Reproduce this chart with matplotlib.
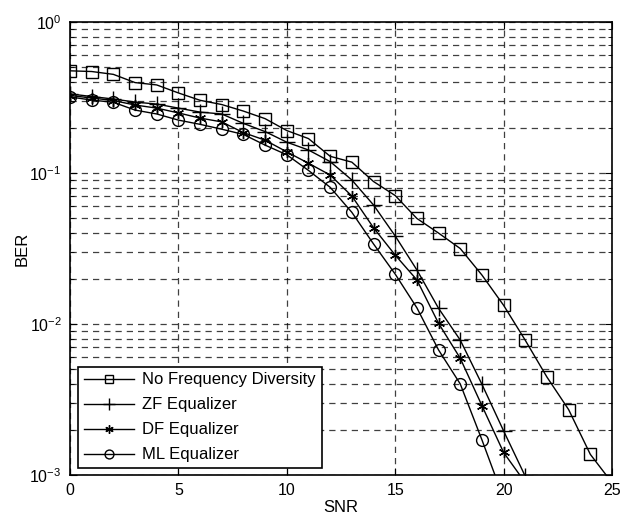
import matplotlib
matplotlib.use("Agg")
import matplotlib.pyplot as plt
import numpy as np

plt.rcParams['font.family'] = ['Liberation Sans', 'DejaVu Sans']
plt.rcParams['mathtext.fontset'] = 'custom'
plt.rcParams['mathtext.rm'] = 'Liberation Sans'

snr_nfd = list(range(0, 26))
ber_nfd = [0.475, 0.47, 0.45, 0.397, 0.383, 0.339, 0.303, 0.284, 0.257, 0.229,
           0.191, 0.169, 0.129, 0.118, 0.0878, 0.0709, 0.050, 0.040, 0.0316, 0.0211,
           0.0133, 0.0078, 0.00445, 0.00271, 0.00137, 0.00089]

snr_zf = list(range(0, 22))
ber_zf = [0.334, 0.321, 0.309, 0.295, 0.286, 0.269, 0.253, 0.246, 0.213, 0.188,
          0.160, 0.142, 0.119, 0.0899, 0.0614, 0.0383, 0.0228, 0.0127, 0.00783, 0.00399,
          0.00196, 0.00098]

snr_df = list(range(0, 22))
ber_df = [0.326, 0.314, 0.302, 0.282, 0.269, 0.250, 0.231, 0.218, 0.185, 0.165,
          0.138, 0.116, 0.097, 0.0704, 0.0434, 0.0286, 0.0196, 0.0101, 0.00593, 0.00288,
          0.00141, 0.00089]

snr_ml = list(range(0, 21))
ber_ml = [0.319, 0.304, 0.294, 0.261, 0.246, 0.224, 0.210, 0.195, 0.180, 0.153,
          0.132, 0.104, 0.0804, 0.0549, 0.0339, 0.0214, 0.0128, 0.00673, 0.00401, 0.00171,
          0.0007]

labels = ['No Frequency Diversity', 'ZF Equalizer', 'DF Equalizer', 'ML Equalizer']

fig = plt.figure(figsize=(6.22, 5.17), dpi=100)
ax = fig.add_axes([70/622, 1-475/517, (612-70)/622, (475-22)/517])

kw = dict(color='black', lw=1.0, mfc='none', mec='black', mew=1.0)
ax.semilogy(snr_nfd, ber_nfd, marker='s', ms=8.5, label=labels[0], **kw)
ax.semilogy(snr_zf, ber_zf, marker='+', ms=11, label=labels[1], **kw)
ax.semilogy(snr_df, ber_df, marker=(6, 2, 0), ms=8, label=labels[2], **kw)
ax.semilogy(snr_ml, ber_ml, marker='o', ms=8.5, label=labels[3], **kw)

ax.set_xlim(0, 25)
ax.set_ylim(1e-3, 1)
ax.set_xticks([0, 5, 10, 15, 20, 25])
ax.tick_params(axis='both', which='both', direction='in', top=True, right=True,
               labelsize=11.5, colors='black')
ax.tick_params(which='major', length=5)
ax.tick_params(which='minor', length=3)
ax.tick_params(axis='x', pad=6)
ax.tick_params(axis='y', pad=6)

ax.grid(True, which='major', axis='both', ls=(0, (5, 4)), color='black', lw=0.9, alpha=0.75)
ax.grid(True, which='minor', axis='y', ls=(0, (5, 4)), color='black', lw=0.9, alpha=0.75)
for s in ax.spines.values():
    s.set_linewidth(1.2)

ax.set_xlabel('SNR', fontsize=12, labelpad=1)
ax.set_ylabel('BER', fontsize=12, labelpad=0)

leg = ax.legend(loc='lower left', bbox_to_anchor=(0.015, 0.015), borderaxespad=0,
                fontsize=12, fancybox=False, framealpha=1, edgecolor='black',
                handlelength=3.0, numpoints=1, markerscale=0.75,
                borderpad=0.35, labelspacing=0.6, handletextpad=0.5)
leg.get_frame().set_linewidth(1.2)

fig.savefig('out.png', dpi=100, facecolor='white')
